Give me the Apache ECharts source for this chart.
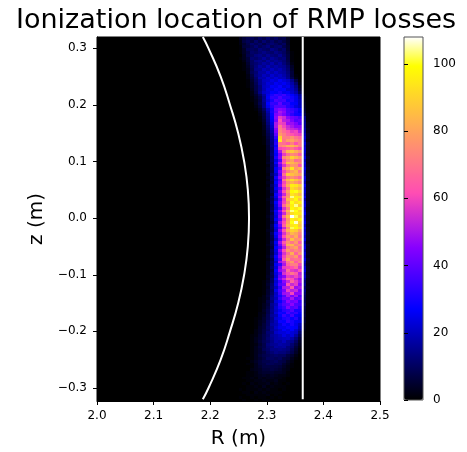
<!DOCTYPE html>
<html><head><meta charset="utf-8">
<style>html,body{margin:0;padding:0;background:#fff}#c{width:467px;height:452px}</style>
<script src="https://cdn.jsdelivr.net/npm/echarts@6/dist/echarts.min.js"></script>
</head><body><div id="c"></div>
<script>
const binStartR = 2.25, binWidthR = 0.007, binTopZ = 0.32, binHeightZ = 0.005;
const xTicks = [2.0, 2.1, 2.2, 2.3, 2.4, 2.5];
const yTicks = [-0.3, -0.2, -0.1, 0, 0.1, 0.2, 0.3];
const cbTicks = [0, 20, 40, 60, 80, 100];
const curveR = [2.187,2.197,2.2185,2.235,2.2495,2.26,2.2665,2.2686,2.2665,2.26,2.2495,2.235,2.2185,2.197,2.187];
const curveZ = [0.32,0.3,0.25,0.2,0.15,0.1,0.05,0,-0.05,-0.1,-0.15,-0.2,-0.25,-0.3,-0.32];
const wallR = [2.3635,2.3635];
const wallZ = [0.32,-0.32];
const counts = [
[3,6,8,9,7,10,8,11,8,10,7,8,3,0,0,0,0,0],
[2,7,9,7,11,8,12,9,11,8,10,7,4,0,0,0,0,0],
[2,5,8,11,9,11,8,11,12,10,8,10,4,0,0,0,0,0],
[1,6,7,9,12,9,11,13,9,11,12,8,5,0,0,0,0,0],
[1,4,9,10,9,13,11,10,14,12,9,11,5,0,0,0,0,0],
[1,4,7,11,10,12,14,12,11,14,12,10,6,1,0,0,0,0],
[0,3,8,10,13,14,12,15,13,12,15,11,7,1,0,0,0,0],
[1,3,6,12,11,13,16,13,16,14,12,13,7,1,0,0,0,0],
[0,2,6,10,14,15,13,17,14,16,14,12,8,1,0,0,0,0],
[0,1,5,10,12,14,17,15,18,14,17,13,9,2,0,0,0,0],
[0,1,4,9,13,17,15,19,16,18,16,15,11,4,0,0,0,0],
[0,1,3,8,14,15,19,17,20,17,19,16,12,5,0,0,0,0],
[0,0,3,9,12,17,17,21,18,21,18,17,13,6,0,0,0,0],
[0,0,2,7,13,16,20,18,22,19,21,18,14,6,1,0,0,0],
[0,0,2,6,11,18,18,22,20,23,20,20,15,8,2,0,0,0],
[0,0,1,5,10,15,20,21,24,22,26,23,21,15,7,1,0,0],
[0,0,1,4,9,15,19,23,22,26,24,26,23,18,11,2,0,0],
[0,0,1,4,8,13,20,22,26,25,28,23,25,20,14,4,0,0],
[0,0,0,3,8,13,19,24,24,28,26,27,22,21,16,6,0,0],
[0,0,0,2,7,14,21,23,27,26,30,25,26,22,18,9,0,0],
[0,0,0,2,5,10,17,25,30,34,32,35,30,27,23,16,1,0],
[0,0,0,1,4,8,15,26,33,32,37,32,32,29,25,18,2,0],
[0,0,0,1,3,7,16,24,30,37,35,36,29,30,25,20,2,0],
[0,0,0,0,3,8,14,27,34,33,40,32,33,27,26,20,3,0],
[0,0,0,0,2,6,14,25,32,38,38,38,32,29,24,21,4,0],
[0,0,0,0,1,4,10,20,29,42,46,44,37,34,31,26,5,0],
[0,0,0,0,0,3,8,18,30,40,50,46,37,36,30,25,6,0],
[0,0,0,0,0,2,7,16,28,44,48,44,38,33,29,28,8,1],
[0,0,0,0,0,1,6,15,27,46,58,54,46,42,40,36,14,1],
[0,0,0,0,0,1,5,14,26,44,62,52,50,44,38,40,15,1],
[0,0,0,0,0,0,4,13,24,50,60,58,48,48,44,38,16,2],
[0,0,0,0,0,0,3,11,22,50,70,60,54,50,46,46,16,2],
[0,0,0,0,0,0,3,10,20,46,72,66,56,54,52,48,18,3],
[0,0,0,0,0,0,2,9,18,44,74,68,64,58,60,52,17,2],
[0,0,0,0,0,0,2,8,16,40,78,72,66,63,60,58,19,3],
[0,0,0,0,0,0,1,7,15,34,90,72,72,76,70,66,22,3],
[0,0,0,0,0,0,1,6,14,30,94,70,78,80,74,70,20,2],
[0,0,0,0,0,0,1,6,13,32,70,68,64,72,62,70,24,4],
[0,0,0,0,0,0,0,5,14,28,72,76,82,84,80,70,21,3],
[0,0,0,0,0,0,0,5,12,31,60,62,66,70,64,60,23,3],
[0,0,0,0,0,0,0,4,11,28,50,70,84,88,82,76,22,3],
[0,0,0,0,0,0,0,4,12,26,44,58,68,74,72,64,20,2],
[0,0,0,0,0,0,0,3,10,30,46,74,80,90,84,78,24,4],
[0,0,0,0,0,0,0,3,11,24,38,62,74,80,68,70,19,3],
[0,0,0,0,0,0,0,4,9,28,48,66,86,84,80,74,23,2],
[0,0,0,0,0,0,0,2,10,22,42,56,70,78,76,62,21,3],
[0,0,0,0,0,0,0,3,9,26,36,72,82,94,78,82,25,4],
[0,0,0,0,0,0,0,3,8,25,44,60,72,80,84,70,20,2],
[0,0,0,0,0,0,0,2,11,21,40,68,88,86,82,78,18,3],
[0,0,0,0,0,0,0,3,8,29,46,58,70,76,72,66,24,3],
[0,0,0,0,0,0,0,2,9,24,38,70,84,92,86,80,22,4],
[0,0,0,0,0,0,0,3,7,27,42,60,76,82,78,72,19,2],
[0,0,0,0,0,0,0,2,10,23,46,64,82,96,94,88,26,3],
[0,0,0,0,0,0,0,3,8,26,36,56,70,92,88,82,21,3],
[0,0,0,0,0,0,0,2,9,22,44,62,80,98,100,92,23,4],
[0,0,0,0,0,0,0,2,6,28,40,54,74,94,90,84,20,3],
[0,0,0,0,0,0,0,2,10,25,46,66,78,104,96,94,25,3],
[0,0,0,0,0,0,0,3,8,21,38,58,84,92,98,86,18,3],
[0,0,0,0,0,0,0,2,9,27,44,60,76,100,92,96,22,4],
[0,0,0,0,0,0,0,2,7,24,42,68,82,96,104,88,24,3],
[0,0,0,0,0,0,0,2,8,22,34,56,72,98,94,100,19,2],
[0,0,0,0,0,0,0,2,10,28,46,64,84,104,100,90,23,3],
[0,0,0,0,0,0,0,2,7,25,40,54,76,92,96,94,26,4],
[0,0,0,0,0,0,0,3,9,23,44,70,86,108,102,88,20,3],
[0,0,0,0,0,0,0,2,8,26,38,58,78,96,92,98,22,3],
[0,0,0,0,0,0,0,2,6,21,48,62,80,100,106,90,25,4],
[0,0,0,0,0,0,0,2,9,27,42,66,84,94,96,86,19,2],
[0,0,0,0,0,0,0,2,8,24,36,54,74,102,98,92,24,3],
[0,0,0,0,0,0,0,3,7,22,46,64,82,90,88,78,21,3],
[0,0,0,0,0,0,0,2,10,28,40,56,72,84,80,72,23,4],
[0,0,0,0,0,0,0,2,8,25,44,62,78,74,82,68,20,3],
[0,0,0,0,0,0,0,2,7,21,38,54,70,86,76,76,25,3],
[0,0,0,0,0,0,0,2,9,26,48,64,76,70,78,64,18,2],
[0,0,0,0,0,0,0,3,8,23,42,58,82,84,72,74,22,4],
[0,0,0,0,0,0,0,2,6,27,36,52,70,76,80,66,24,3],
[0,0,0,0,0,0,0,2,9,24,46,62,78,70,74,70,19,3],
[0,0,0,0,0,0,0,2,8,22,40,56,68,82,66,76,23,3],
[0,0,0,0,0,0,0,3,10,28,44,60,74,72,78,62,21,2],
[0,0,0,0,0,0,0,2,7,25,38,64,80,68,70,68,25,4],
[0,0,0,0,0,0,0,3,9,21,48,54,70,78,64,72,20,3],
[0,0,0,0,0,0,0,3,8,26,34,50,66,72,72,60,18,2],
[0,0,0,0,0,0,0,3,10,23,42,58,60,62,68,56,22,3],
[0,0,0,0,0,0,0,3,7,27,46,52,68,58,56,62,24,3],
[0,0,0,0,0,0,0,3,9,24,36,56,62,70,64,52,19,2],
[0,0,0,0,0,0,0,4,8,22,40,46,58,56,60,54,21,3],
[0,0,0,0,0,0,0,3,10,26,44,54,66,62,54,48,17,2],
[0,0,0,0,0,0,1,4,9,22,34,46,54,66,58,50,13,2],
[0,0,0,0,0,0,1,5,11,24,38,42,62,54,58,46,15,1],
[0,0,0,0,0,0,1,4,12,20,32,50,52,64,48,50,11,2],
[0,0,0,0,0,0,1,5,10,25,36,44,58,52,54,44,14,1],
[0,0,0,0,0,0,1,5,11,21,34,48,50,60,46,46,12,1],
[0,0,0,0,0,0,2,6,13,22,30,38,50,44,50,38,10,1],
[0,0,0,0,0,1,2,5,14,20,33,42,42,50,40,42,9,1],
[0,0,0,0,0,1,2,7,12,23,28,36,46,42,44,34,8,1],
[0,0,0,0,0,1,3,6,15,20,32,38,40,46,38,36,10,0],
[0,0,0,0,0,1,3,7,14,22,30,34,44,38,40,32,7,0],
[0,0,0,0,0,1,4,8,15,21,26,32,34,38,30,30,6,0],
[0,0,0,0,0,2,3,8,14,23,29,28,36,32,34,28,5,0],
[0,0,0,0,0,2,4,9,16,19,27,34,30,36,28,26,6,0],
[0,0,0,0,1,2,5,9,14,22,25,30,32,28,32,24,4,0],
[0,0,0,0,1,3,5,10,15,20,28,27,33,30,26,25,5,0],
[0,0,0,0,1,3,6,10,17,19,24,29,26,30,25,20,3,0],
[0,0,0,0,1,4,6,11,15,21,25,25,28,27,26,18,3,0],
[0,0,0,0,2,4,7,10,16,19,22,27,24,27,22,16,2,0],
[0,0,0,0,2,4,7,12,14,21,23,23,25,23,21,12,1,0],
[0,0,0,1,2,5,8,11,16,18,20,24,21,23,17,9,1,0],
[0,0,0,1,3,5,8,12,15,18,19,20,21,18,13,6,0,0],
[0,0,0,1,3,6,9,11,14,18,17,20,16,15,10,4,0,0],
[0,0,0,1,2,5,8,13,15,16,18,17,16,12,8,3,0,0],
[0,0,0,1,3,6,8,12,13,17,16,17,13,11,6,2,0,0],
[0,0,0,1,3,5,9,11,14,14,15,14,13,9,5,1,0,0],
[0,0,0,1,3,5,7,10,12,14,13,13,11,8,4,1,0,0],
[0,0,0,1,3,6,8,9,10,11,10,10,7,5,2,0,0,0],
[0,0,1,1,3,5,7,10,10,9,10,7,6,3,1,0,0,0],
[0,0,0,2,4,6,8,8,9,10,8,7,4,2,0,0,0,0],
[0,0,1,1,3,6,7,9,9,8,8,5,3,1,0,0,0,0],
[0,0,0,1,3,5,7,7,7,7,6,4,2,1,0,0,0,0],
[0,0,0,2,3,4,6,6,7,6,5,3,2,0,0,0,0,0],
[0,0,1,1,2,4,5,5,5,4,4,3,1,0,0,0,0,0],
[0,0,1,1,2,3,4,3,4,3,2,2,1,0,0,0,0,0],
[0,1,1,2,1,3,2,3,3,2,2,1,0,0,0,0,0,0],
[0,0,1,1,2,2,3,2,2,3,1,1,0,0,0,0,0,0],
[0,1,0,2,1,2,2,3,1,2,1,0,1,0,0,0,0,0],
[0,0,1,1,2,1,3,1,2,1,1,1,0,0,0,0,0,0],
[1,0,1,1,1,2,1,2,1,1,0,1,0,0,0,0,0,0],
[0,1,1,0,2,1,2,1,1,1,1,0,0,0,0,0,0,0],
[0,0,1,1,1,1,1,2,0,1,0,0,0,0,0,0,0,0],
[1,0,0,1,0,1,1,0,1,0,1,0,0,0,0,0,0,0],
[0,1,0,0,1,0,1,1,0,0,0,0,0,0,0,0,0,0],
[0,0,1,0,0,1,0,0,1,0,0,0,0,0,0,0,0,0]
];
// matplotlib "gnuplot2" colour ramp anchors
const rampAnchors = [[0,0,0,0],[0.25,0,0,255],[0.42,135,0,255],[0.57,255,77,179],[0.92,255,255,0],[1,255,255,255]];
function rampColors(n){const out=[];for(let i=0;i<n;i++){const t=i/(n-1);let k=0;while(k<rampAnchors.length-2&&t>rampAnchors[k+1][0])k++;const a=rampAnchors[k],b=rampAnchors[k+1],f=(t-a[0])/(b[0]-a[0]);out.push('rgb('+[1,2,3].map(c=>Math.round(a[c]+(b[c]-a[c])*f)).join(',')+')');}return out;}

const cells=[];
counts.forEach((row,j)=>row.forEach((v,i)=>{if(v>0)cells.push([binStartR+i*binWidthR,binTopZ-j*binHeightZ,v]);}));
const FONT='"DejaVu Sans"';
const fmt=v=>Number(v).toFixed(1).replace('-','\u2212');
const axisBase={axisLine:{show:true,onZero:false,lineStyle:{color:'#000',width:1}},axisTick:{show:true,length:4,lineStyle:{color:'#000',width:1}},splitLine:{show:false}};
const chart=echarts.init(document.getElementById('c'),null,{renderer:'canvas'});
chart.setOption({
 animation:false,backgroundColor:'#fff',textStyle:{fontFamily:FONT},
 title:{text:'Ionization location of RMP losses',left:16,top:7,padding:0,textStyle:{fontFamily:FONT,fontSize:27,fontWeight:'normal',color:'#000'}},
 grid:[{left:97,top:37,width:283,height:364,show:true,backgroundColor:'#000',borderColor:'#000',borderWidth:1,outerBoundsMode:'none'},
       {left:404,top:37,width:19,height:363,show:true,backgroundColor:'transparent',borderColor:'#555',borderWidth:1,z:5,outerBoundsMode:'none'}],
 xAxis:[Object.assign({},axisBase,{type:'value',gridIndex:0,min:2,max:2.5,interval:0.1,name:'R (m)',nameLocation:'middle',nameGap:28,nameTextStyle:{fontSize:20,color:'#000',fontFamily:FONT},
   axisTick:Object.assign({},axisBase.axisTick,{customValues:xTicks}),axisLabel:{customValues:xTicks,formatter:fmt,fontSize:12,color:'#000',margin:9,fontFamily:FONT}}),
   {type:'value',gridIndex:1,min:0,max:1,show:false}],
 yAxis:[Object.assign({},axisBase,{type:'value',gridIndex:0,min:-0.323,max:0.32,name:'z (m)',nameLocation:'middle',nameGap:47,nameTextStyle:{fontSize:20,color:'#000',fontFamily:FONT},
   axisTick:Object.assign({},axisBase.axisTick,{customValues:yTicks}),axisLabel:{customValues:yTicks,formatter:fmt,fontSize:12,color:'#000',margin:10,fontFamily:FONT}}),
   Object.assign({},axisBase,{type:'value',gridIndex:1,position:'right',min:0,max:108,axisLine:{show:false},z:6,
   axisTick:Object.assign({},axisBase.axisTick,{customValues:cbTicks}),axisLabel:{customValues:cbTicks,fontSize:12,color:'#000',margin:10,fontFamily:FONT}})],
 visualMap:{type:'continuous',seriesIndex:0,dimension:2,min:0,max:108,left:404,top:37,itemWidth:19,itemHeight:363,padding:0,calculable:false,showLabel:false,text:null,realtime:false,hoverLink:false,inRange:{color:rampColors(101)}},
 series:[
  {type:'custom',xAxisIndex:0,yAxisIndex:0,data:cells,encode:{x:0,y:1},silent:true,clip:true,
   renderItem:(params,api)=>{const p0=api.coord([api.value(0),api.value(1)]),p1=api.coord([api.value(0)+binWidthR,api.value(1)-binHeightZ]);
     const x0=Math.round(p0[0]),y0=Math.round(p0[1]),x1=Math.round(p1[0]),y1=Math.round(p1[1]);
     return {type:'rect',shape:{x:x0,y:y0,width:x1-x0,height:y1-y0},style:{fill:api.visual('color')}};}},
  {type:'line',xAxisIndex:0,yAxisIndex:0,data:curveR.map((r,i)=>[r,curveZ[i]]),showSymbol:false,smooth:true,silent:true,lineStyle:{color:'#fff',width:2},z:4},
  {type:'line',xAxisIndex:0,yAxisIndex:0,data:wallR.map((r,i)=>[r,wallZ[i]]),showSymbol:false,silent:true,lineStyle:{color:'#fff',width:2},z:4}
 ]
});
</script></body></html>
